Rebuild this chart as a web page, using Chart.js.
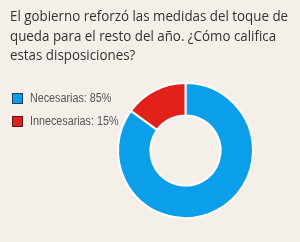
<!DOCTYPE html>
<html>
<head>
<meta charset="utf-8">
<script src="https://cdn.jsdelivr.net/npm/chart.js@4"></script>
<style>
  html, body { margin: 0; padding: 0; background: #f4efe9; }
  #wrap { position: relative; width: 300px; height: 242px; overflow: hidden; }
  #title {
    position: absolute; left: 10px; top: 6px;
    font-family: 'Open Sans', sans-serif; font-size: 15px; line-height: 19.5px;
    color: #333333; white-space: nowrap;
    transform: scaleX(0.89); transform-origin: 0 0;
  }
  #legend { position: absolute; left: 12px; top: 93px; }
  .item { position: relative; height: 11px; margin-bottom: 12px; white-space: nowrap; }
  .box { position: absolute; left: 0; top: 0; width: 9px; height: 9px; border: 1px solid; }
  .lbl {
    position: absolute; left: 18px; top: -2px;
    font-family: 'Liberation Sans', Arial, sans-serif; font-size: 12.5px; line-height: 15px;
    color: #555555; transform: scaleX(0.86); transform-origin: 0 0;
  }
  #chart { position: absolute; left: 0; top: 0; }
</style>
</head>
<body>
<div id="wrap">
  <canvas id="chart" width="300" height="242"></canvas>
  <div id="title"></div>
  <div id="legend"></div>
</div>
<script>
// survey answers
const TITLE_LINES = [
  'El gobierno reforzó las medidas del toque de',
  'queda para el resto del año. ¿Cómo califica',
  'estas disposiciones?'
];
const CATEGORIES = ['Necesarias', 'Innecesarias'];
const VALUES = [85, 15];
const SLICE_COLORS = ['#0a9fe8', '#e3211b'];
const BOX_BORDERS = ['#1d3b5a', '#5a1512'];

document.getElementById('title').innerHTML = TITLE_LINES.join('<br>');

const legendEl = document.getElementById('legend');
CATEGORIES.forEach((c, i) => {
  const item = document.createElement('div');
  item.className = 'item';
  item.innerHTML = '<span class="box" style="background:' + SLICE_COLORS[i] +
    ';border-color:' + BOX_BORDERS[i] + '"></span><span class="lbl">' +
    c + ': ' + VALUES[i] + '%</span>';
  legendEl.appendChild(item);
});

// donut sits right of the legend: padding places the chart area
new Chart(document.getElementById('chart'), {
  type: 'doughnut',
  data: {
    labels: CATEGORIES,
    datasets: [{
      data: VALUES,
      backgroundColor: SLICE_COLORS,
      borderColor: '#ffffff',
      borderWidth: 2,
    }],
  },
  options: {
    responsive: false,
    animation: false,
    cutout: '52%',
    layout: { padding: { left: 115, right: 44, top: 82, bottom: 23 } },
    plugins: {
      legend: { display: false },
      tooltip: { enabled: false },
    },
  },
});
</script>
</body>
</html>
